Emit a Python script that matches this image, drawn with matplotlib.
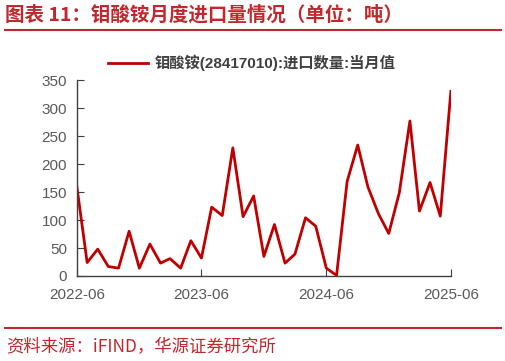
import matplotlib
matplotlib.use("Agg")
import matplotlib.pyplot as plt
import pandas as pd

plt.rcParams['font.family'] = ['Liberation Sans', 'Noto Sans CJK SC', 'DejaVu Sans']

months = pd.date_range("2022-06-01", "2025-06-01", freq="MS")
values = [159, 24, 48, 17, 14, 80, 14, 57, 23, 31, 14, 63, 32, 123, 108, 229,
          106, 143, 35, 92, 23, 39, 104, 89, 14, 1, 169, 234, 159, 111, 76,
          149, 277, 116, 167, 107, 330]
tick_labels = ["2022-06", "2023-06", "2024-06", "2025-06"]
yticks = [0, 50, 100, 150, 200, 250, 300, 350]
series_name = "钼酸铵(28417010):进口数量:当月值"
title = "图表 11：钼酸铵月度进口量情况（单位：吨）"
source = "资料来源：iFIND，华源证券研究所"

red = "#C0282D"
fig = plt.figure(figsize=(5.06, 3.61), dpi=100)
ax = fig.add_axes([0.152, 0.2355, 0.739, 0.5425])
ax.plot(months, values, color="#C00000", lw=2.0, label=series_name)
ax.set_xlim(months[0], months[-1])
ax.set_ylim(0, 350)
ax.set_yticks(yticks)
ax.set_xticks(pd.to_datetime([t + "-01" for t in tick_labels]))
ax.set_xticklabels(tick_labels)
for s in ["top", "right"]:
    ax.spines[s].set_visible(False)
for s in ["left", "bottom"]:
    ax.spines[s].set_color("#404040")
    ax.spines[s].set_linewidth(1.0)
ax.tick_params(direction="in", length=5, color="#404040", labelsize=11,
               labelcolor="#595959")
ax.tick_params(axis="y", pad=7)
ax.tick_params(axis="x", pad=9)
leg = ax.legend(loc="upper center", bbox_to_anchor=(0.468, 1.2), frameon=False,
                prop={'family': ['Liberation Sans', 'Noto Sans CJK SC'], 'size': 11,
                      'weight': 'bold'},
                handlelength=2.6, handletextpad=0.45, labelcolor="#404040")

fig.text(0.01, 0.958, title, color=red, fontsize=14, fontweight="bold",
         va="center", ha="left", family=['Noto Sans CJK SC', 'DejaVu Sans'])
fig.add_artist(plt.Line2D([0.01, 0.99], [0.918, 0.918], color=red, lw=1.5))
fig.add_artist(plt.Line2D([0.01, 0.99], [0.092, 0.092], color=red, lw=1.5))
fig.text(0.012, 0.039, source, color=red, fontsize=12.5, va="center", ha="left",
         family=['Noto Sans CJK SC', 'DejaVu Sans'])

fig.savefig("out.png", dpi=100)
